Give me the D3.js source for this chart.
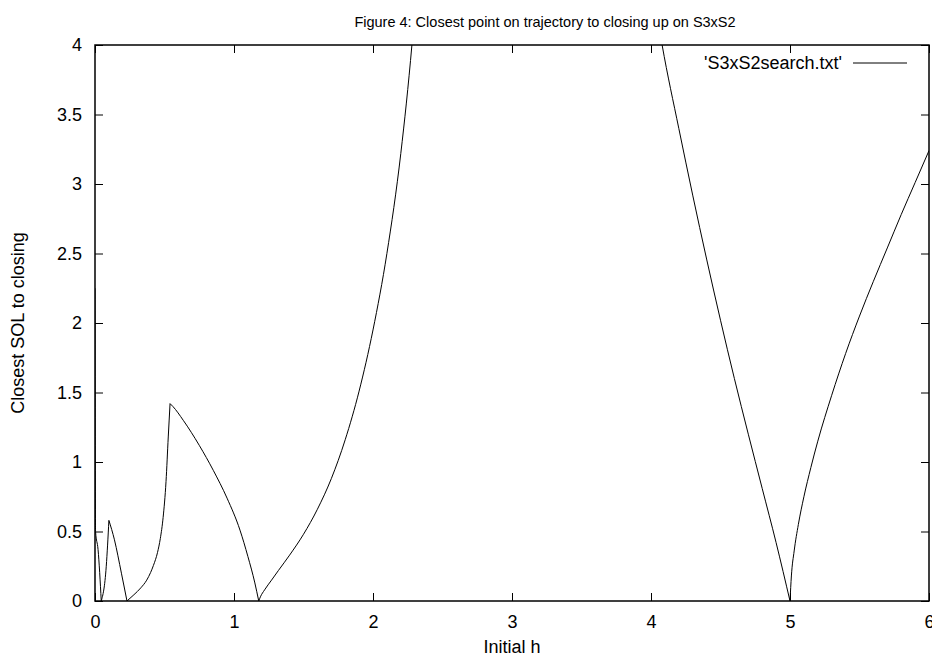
<!DOCTYPE html>
<html>
<head>
<meta charset="utf-8">
<script src="https://cdn.jsdelivr.net/npm/d3@7"></script>
<style>
    body { margin: 0; background: #fff; }
    svg text { font-family: "Liberation Sans", Arial, sans-serif; fill: #000; }
</style>
</head>
<body>
<div class="viz"></div>
<script>
// values (x = initial h, y = closest SOL to closing)
const hValues = [
    0, 0.004, 0.022, 0.045, 0.081, 0.1, 0.14, 0.19, 0.23,
    0.28, 0.33, 0.372, 0.4, 0.42, 0.45, 0.47, 0.49, 0.511, 0.527, 0.54, 0.56,
    0.635, 0.75, 0.851, 0.95, 1.043, 1.1, 1.15, 1.178,
    1.19, 1.22, 1.27, 1.32, 1.4, 1.5, 1.6, 1.7, 1.8, 1.9, 2.0, 2.1, 2.2, 2.28, 2.35,
    2.8, 3.2, 3.6, 3.9, 4.08,
    4.2, 4.3, 4.4, 4.5, 4.6, 4.7, 4.8, 4.9, 5.0,
    5.01, 5.03, 5.06, 5.1, 5.15, 5.2, 5.3, 5.4, 5.5, 5.6, 5.7, 5.8, 5.9, 6.0
];
const solValues = [
    2.25, 0.5, 0.37, 0, 0.25, 0.58, 0.44, 0.2, 0,
    0.045, 0.095, 0.15, 0.205, 0.255, 0.35, 0.45, 0.6, 0.86, 1.18, 1.42, 1.40,
    1.30, 1.12, 0.94, 0.74, 0.51, 0.32, 0.13, 0,
    0.03, 0.08, 0.15, 0.22, 0.33, 0.48, 0.66, 0.88, 1.16, 1.51, 1.95, 2.5, 3.22, 4.0, 4.9,
    7.5, 8.5, 7.2, 5.2, 4.0,
    3.4, 2.92, 2.46, 2.02, 1.6, 1.2, 0.81, 0.42, 0,
    0.18, 0.36, 0.55, 0.75, 0.96, 1.15, 1.48, 1.78, 2.05, 2.3, 2.54, 2.78, 3.01, 3.24
];
const xTicks = [0, 1, 2, 3, 4, 5, 6];
const yTicks = [0, 0.5, 1, 1.5, 2, 2.5, 3, 3.5, 4];
const seriesName = "'S3xS2search.txt'";
const titleText = "Figure 4: Closest point on trajectory to closing up on S3xS2";

var margin = { top: 45, right: 3, bottom: 55, left: 95 },
    fullW = 932,
    fullH = 656,
    width = fullW - margin.left - margin.right,
    height = fullH - margin.top - margin.bottom,
    tickLen = 8,
    fontSize = 18;

var data = hValues.map((h, i) => ({ h: h, v: solValues[i] }));

// split at every turning point so the cusps stay sharp while the rest is smooth
var pieces = [],
    start = 0;
for (let i = 1; i < data.length - 1; i++) {
    if ((data[i].v - data[i - 1].v) * (data[i + 1].v - data[i].v) <= 0) {
        pieces.push(data.slice(start, i + 1));
        start = i;
    }
}
pieces.push(data.slice(start));

var x = d3.scaleLinear().domain([0, 6]).range([0, width]);
var y = d3.scaleLinear().domain([0, 4]).range([height, 0]);

var svg = d3
    .select(".viz")
    .append("svg")
    .attr("width", fullW)
    .attr("height", fullH);

svg.append("defs")
    .append("clipPath")
    .attr("id", "plot-clip")
    .append("rect")
    .attr("width", width)
    .attr("height", height);

var g = svg.append("g").attr("transform", `translate(${margin.left},${margin.top})`);

// axes with inward ticks, mirrored on top and right like gnuplot
g.append("g")
    .attr("transform", `translate(0,${height})`)
    .call(d3.axisBottom(x).tickValues(xTicks).tickSize(-tickLen).tickPadding(14).tickFormat(d3.format("d")));
g.append("g")
    .call(d3.axisTop(x).tickValues(xTicks).tickSize(-tickLen).tickFormat(""));
g.append("g")
    .call(d3.axisLeft(y).tickValues(yTicks).tickSize(-tickLen).tickPadding(13).tickFormat((d) => d));
g.append("g")
    .attr("transform", `translate(${width},0)`)
    .call(d3.axisRight(y).tickValues(yTicks).tickSize(-tickLen).tickFormat(""));

g.selectAll(".domain").remove();
g.selectAll(".tick line").attr("stroke", "#000");
g.selectAll(".tick text")
    .attr("font-size", fontSize)
    .attr("font-family", "Liberation Sans, Arial, sans-serif");

g.append("rect")
    .attr("width", width)
    .attr("height", height)
    .attr("fill", "none")
    .attr("stroke", "#000")
    .attr("stroke-width", 1.5);

// the curve
var line = d3
    .line()
    .curve(d3.curveMonotoneX)
    .x((d) => x(d.h))
    .y((d) => y(d.v));
g.append("g")
    .attr("clip-path", "url(#plot-clip)")
    .selectAll("path")
    .data(pieces)
    .enter()
    .append("path")
    .attr("d", line)
    .attr("fill", "none")
    .attr("stroke", "#000")
    .attr("stroke-width", 1);

// legend
var legend = g.append("g").attr("transform", `translate(${width - 76},18)`);
legend.append("text")
    .attr("x", -11)
    .attr("dy", "0.35em")
    .attr("font-size", fontSize)
    .attr("text-anchor", "end")
    .text(seriesName);
legend.append("line")
    .attr("x1", 0)
    .attr("x2", 54)
    .attr("stroke", "#000");

// titles
svg.append("text")
    .attr("x", 545)
    .attr("y", 27)
    .attr("font-size", 14.5)
    .attr("text-anchor", "middle")
    .text(titleText);
svg.append("text")
    .attr("x", margin.left + width / 2)
    .attr("y", 653)
    .attr("font-size", fontSize)
    .attr("text-anchor", "middle")
    .text("Initial h");
svg.append("text")
    .attr("transform", `translate(24,${margin.top + height / 2}) rotate(-90)`)
    .attr("font-size", fontSize)
    .attr("text-anchor", "middle")
    .text("Closest SOL to closing");
</script>
</body>
</html>
